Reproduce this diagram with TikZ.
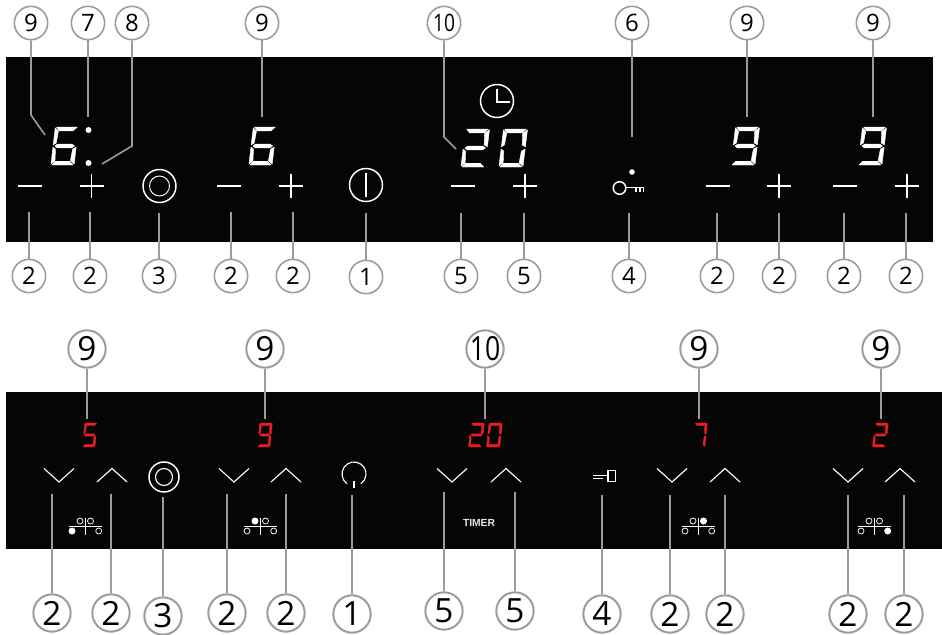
\documentclass[tikz,border=0pt]{standalone}
\usepackage{graphicx}
\usepackage{fontspec}
\setmainfont{Open Sans}
\newfontfamily\timerfont{Liberation Sans}
\definecolor{panel}{HTML}{050505}
\definecolor{lead}{HTML}{9A9C9E}
\definecolor{seg}{HTML}{ED1C24}
\newcommand{\tenlabel}{\scalebox{0.8}[1]{10}}
\tikzset{
  x=0.75pt,y=-0.75pt,
  lineA/.style={lead,line width=1.2pt},
  lineB/.style={lead,line width=1.5pt},
  callA/.style={circle,draw=lead,fill=white,line width=1.2pt,minimum size=25pt,inner sep=0pt,font=\fontsize{18}{19}\selectfont,text=black},
  callB/.style={circle,draw=lead,fill=white,line width=1.5pt,minimum size=28pt,inner sep=0pt,font=\fontsize{25}{26}\selectfont,text=black},
  icon/.style={white,line width=1.1pt},
  thin icon/.style={white,line width=0.7pt},
  zone/.style={white,line width=0.55pt},
}
% seven-segment digit: x y width height colour segment-list
\newcommand{\sevenseg}[6]{%
  \begin{scope}[shift={(#1,#2)},xscale=#3,yscale=#4,xslant=0.16,shift={(0.16,0)}]
  \foreach \s in {#6}{\filldraw[#5,line width=0.3pt,line join=round] \csname sg\s\endcsname;}
  \end{scope}}
\newcommand{\sga}{(0.07,0) -- (0.82,0) -- (0.68,0.1) -- (0.18,0.1) -- cycle}
\newcommand{\sgb}{(0.86,0.02) -- (0.86,0.47) -- (0.74,0.42) -- (0.71,0.11) -- cycle}
\newcommand{\sgc}{(0.86,0.53) -- (0.86,0.98) -- (0.71,0.89) -- (0.74,0.58) -- cycle}
\newcommand{\sgd}{(0.07,1) -- (0.82,1) -- (0.68,0.9) -- (0.18,0.9) -- cycle}
\newcommand{\sge}{(0.03,0.53) -- (0.03,0.98) -- (0.16,0.89) -- (0.13,0.58) -- cycle}
\newcommand{\sgf}{(0.03,0.02) -- (0.03,0.47) -- (0.13,0.42) -- (0.16,0.11) -- cycle}
\newcommand{\sgg}{(0.09,0.5) -- (0.18,0.45) -- (0.7,0.45) -- (0.8,0.5) -- (0.7,0.55) -- (0.18,0.55) -- cycle}
\newcommand{\zonemark}[3]{% cx, cy, filled 1..4 (ul,ur,ll,lr)
  \draw[zone] (#1-16.5,#2) -- (#1+16.5,#2);
  \draw[zone] (#1,#2-8) -- (#1,#2+9);
  \foreach \dx/\dy/\k in {-5/-5/1,5.5/-5/2,-13/5/3,13.7/5/4}{
    \ifnum\k=#3\relax
      \fill[white] (#1+\dx,#2+\dy) circle (3.5);
    \else
      \draw[zone] (#1+\dx,#2+\dy) circle (3);
    \fi}}
\newcommand{\minus}[2]{\draw[icon] (#1-12,#2) -- (#1+12,#2);}
\newcommand{\plusmark}[2]{\draw[icon] (#1-12,#2) -- (#1+12,#2) (#1,#2-12) -- (#1,#2+12);}
\newcommand{\chevd}[1]{\draw[icon,line width=0.85pt] (#1-15,468.5) -- (#1,482) -- (#1+15,468.5);}
\newcommand{\chevu}[1]{\draw[icon,line width=0.85pt] (#1-15,482) -- (#1,468.5) -- (#1+15,482);}
\begin{document}
\begin{tikzpicture}
\useasboundingbox (0,0) rectangle (942,635);
\fill[white] (0,0) rectangle (942,635);
\fill[panel] (6,57) rectangle (933,242);
\fill[panel] (6,392) rectangle (942,549);

% top panel digits
\sevenseg{50}{127}{28}{38}{white}{a,c,d,e,f,g}
\fill[white] (88.5,130) circle (3) (88.5,163) circle (3);
\sevenseg{248}{127}{28}{38}{white}{a,c,d,e,f,g}
\sevenseg{460}{129}{29}{38}{white}{a,b,d,e,g}
\sevenseg{498}{129}{29}{38}{white}{a,b,c,d,e,f}
\sevenseg{730}{127}{29}{38}{white}{a,b,c,d,f,g}
\sevenseg{857}{127}{29}{38}{white}{a,b,c,d,f,g}

% top panel icons
\minus{30}{186} \plusmark{91.5}{186}
\draw[icon] (159.5,186) circle (16.5);
\draw[thin icon] (159.5,186) circle (10);
\minus{229}{186} \plusmark{291}{186}
\draw[icon] (366,185) circle (16.5);
\draw[icon] (366,173) -- (366,197);
\draw[icon] (497,101) circle (16.5);
\draw[icon] (497,89) -- (497,102) -- (510,102);
\minus{463}{186} \plusmark{525}{186}
\fill[white] (632,172) circle (2.8);
\draw[icon] (619.5,188) circle (6.3);
\draw[icon] (625.8,187.5) -- (644,187.5);
\draw[icon] (636,187.5) -- (636,192) (640,187.5) -- (640,191.5) (643.4,187.5) -- (643.4,191.5);
\minus{717.5}{186} \plusmark{779}{186}
\minus{844.5}{186} \plusmark{907}{186}

% bottom panel digits
\sevenseg{82}{423}{15}{24}{seg}{a,c,d,f,g}
\sevenseg{257}{423}{15}{24}{seg}{a,b,c,d,f,g}
\sevenseg{468}{423}{16}{24}{seg}{a,b,d,e,g}
\sevenseg{486}{423}{16}{24}{seg}{a,b,c,d,e,f}
\sevenseg{692}{423}{15}{24}{seg}{a,b,c}
\sevenseg{872}{423}{16}{24}{seg}{a,b,d,e,g}

% bottom panel icons
\chevd{59} \chevu{112}
\draw[icon] (164,477) circle (15);
\draw[icon,line width=0.85pt] (164,477) circle (8.5);
\chevd{234} \chevu{286}
\draw[icon,line width=0.85pt] (347.1,483.8) arc[start angle=125,end angle=415,radius=12];
\draw[icon,line width=0.85pt] (354,481) -- (354,488);
\chevd{452} \chevu{506}
\draw[icon,line width=0.85pt] (608,470.5) rectangle (615.5,481.5);
\draw[icon,line width=0.7pt] (593,475) -- (608,475) (593,478) -- (603,478);
\chevd{672} \chevu{725}
\chevd{848} \chevu{900}
\zonemark{85}{526}{3}
\zonemark{260}{526}{1}
\zonemark{698}{526}{2}
\zonemark{874}{526}{4}
\node (timer) at (479,523) {\timerfont\bfseries\fontsize{7.7}{8}\selectfont\textcolor[HTML]{E6E6E6}{TIMER}};

% top callouts
\foreach \n/\x/\y/\t in {
  ta/31/23/9,tb/88/23/7,tc/132/23/8,td/262/23/9,te/444/23/\tenlabel,tf/632/23/6,tg/747/23/9,th/873/23/9,
  ua/29/276/2,ub/90/276/2,uc/159/276/3,ud/231/276/2,ue/293/276/2,uf/366/277/1,ug/461/276/5,uh/524/276/5,ui/629/276/4,uj/717/276/2,uk/779/276/2,ul/844/276/2,um/906/276/2}
  {\node[callA] (\n) at (\x,\y) {\makebox[0pt]{\t}};}
\foreach \n/\x/\y in {
  ea/45/135,eb/88/117,ec/102/164,ed/262/117,ee/456/149,ef/632/137,eg/747/117,eh/873/117,
  fa/29/212,fb/90/212,fc/159/213,fd/231/212,fe/293/212,ff/366/213,fg/461/213,fh/524/213,fi/629/213,fj/717/213,fk/779/213,fl/844/213,fm/906/213}
  {\coordinate (\n) at (\x,\y);}
\coordinate (ja) at (31,115);
\coordinate (jc) at (132,146);
\coordinate (je) at (444,137);
\draw[lineA] (ta) -- (ja) -- (ea);
\draw[lineA] (tb) -- (eb);
\draw[lineA] (tc) -- (jc) -- (ec);
\draw[lineA] (td) -- (ed);
\draw[lineA] (te) -- (je) -- (ee);
\draw[lineA] (tf) -- (ef);
\draw[lineA] (tg) -- (eg);
\draw[lineA] (th) -- (eh);
\foreach \a/\b in {ua/fa,ub/fb,uc/fc,ud/fd,ue/fe,uf/ff,ug/fg,uh/fh,ui/fi,uj/fj,uk/fk,ul/fl,um/fm}
  {\draw[lineA] (\a) -- (\b);}

% bottom callouts
\foreach \n/\x/\y/\t in {
  va/87/349/9,vb/265/349/9,vc/485/349/\tenlabel,vd/699/349/9,ve/881/349/9,
  wa/52/613/2,wb/111/613/2,wc/163/616/3,wd/227/613/2,we/286/613/2,wf/352/614/1,wg/444/611/5,wh/515/611/5,wi/602/614/4,wj/670/614/2,wk/725/614/2,wl/848/614/2,wm/904/614/2}
  {\node[callB] (\n) at (\x,\y) {\makebox[0pt]{\t}};}
\foreach \n/\x/\y in {
  ga/87/419,gb/265/419,gc/485/419,gd/699/419,ge/881/419,
  ha/52/494,hb/111/494,hc/163/497,hd/227/494,he/286/494,hf/352/495,hg/444/492,hh/515/492,hi/602/495,hj/670/495,hk/725/495,hl/848/495,hm/904/495}
  {\coordinate (\n) at (\x,\y);}
\foreach \a/\b in {va/ga,vb/gb,vc/gc,vd/gd,ve/ge,wa/ha,wb/hb,wc/hc,wd/hd,we/he,wf/hf,wg/hg,wh/hh,wi/hi,wj/hj,wk/hk,wl/hl,wm/hm}
  {\draw[lineB] (\a) -- (\b);}
\end{tikzpicture}
\end{document}
